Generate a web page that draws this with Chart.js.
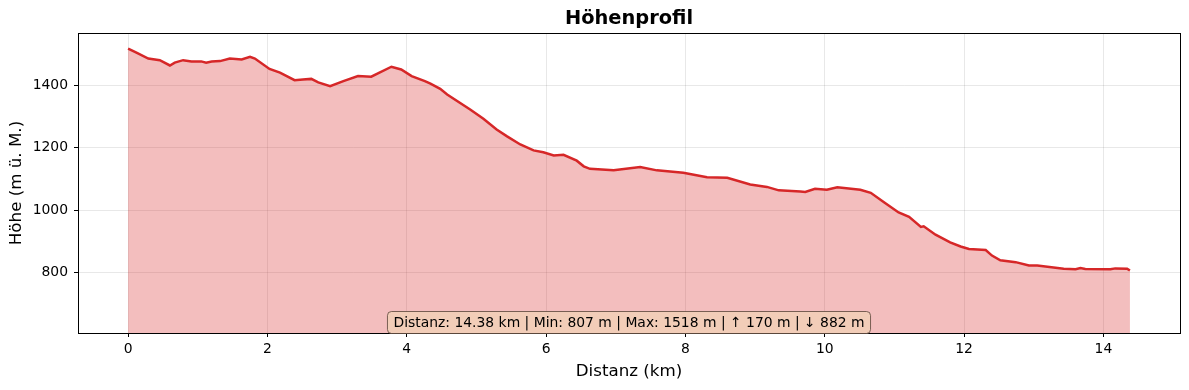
<!DOCTYPE html>
<html>
<head>
<meta charset="utf-8">
<script src="https://cdn.jsdelivr.net/npm/chart.js@4"></script>
<style>
  html, body { margin: 0; padding: 0; background: #fff; }
  #wrap { width: 1189px; height: 390px; }
</style>
</head>
<body>
<div id="wrap"><canvas id="profile" width="1189" height="390"></canvas></div>
<script>
const distances = [
  0.00, 0.12, 0.29, 0.455, 0.60, 0.67, 0.79, 0.91, 1.05, 1.12, 1.20, 1.32, 1.46, 1.63, 1.75, 1.82,
  2.03, 2.18, 2.39, 2.51, 2.63, 2.73, 2.90, 3.09, 3.30, 3.49, 3.78, 3.92, 4.07, 4.26, 4.34, 4.48,
  4.58, 4.91, 5.10, 5.29, 5.44, 5.63, 5.82, 5.96, 6.11, 6.25, 6.44, 6.54, 6.63, 6.97, 7.35, 7.59,
  7.97, 8.31, 8.60, 8.93, 9.17, 9.34, 9.65, 9.72, 9.86, 10.03, 10.18, 10.51, 10.66, 10.85, 11.06,
  11.21, 11.38, 11.42, 11.59, 11.80, 11.95, 12.07, 12.31, 12.40, 12.52, 12.74, 12.93, 13.05, 13.43,
  13.60, 13.67, 13.74, 14.10, 14.17, 14.34, 14.38
];
const elevations = [
  1518, 1505, 1486, 1481, 1464, 1473, 1481, 1477, 1477, 1473, 1477, 1478, 1486, 1483, 1492, 1486,
  1453, 1441, 1417, 1419, 1421, 1410, 1398, 1414, 1430, 1428, 1460, 1451, 1430, 1414, 1406, 1389,
  1371, 1323, 1293, 1259, 1237, 1211, 1192, 1186, 1176, 1178, 1159, 1141, 1133, 1128, 1139, 1128,
  1120, 1106, 1104, 1083, 1075, 1064, 1060, 1059, 1069, 1066, 1074, 1066, 1056, 1026, 993,
  979, 947, 949, 922, 897, 884, 876, 873, 855, 840, 834, 823, 823, 813,
  811, 815, 812, 811, 814, 813, 807
];
const xTicks = [0, 2, 4, 6, 8, 10, 12, 14];
const yTicks = [800, 1000, 1200, 1400];
const chartTitle = 'Höhenprofil';
const summary = 'Distanz: 14.38 km | Min: 807 m | Max: 1518 m | \u2191 170 m | \u2193 882 m';

const FONT = '"DejaVu Sans", sans-serif';
const points = distances.map((d, i) => ({ x: d, y: elevations[i] }));

// Titel über der Achsenmitte, Rahmen und Infobox unten
const framePlugin = {
  id: 'frame',
  afterDatasetsDraw(chart) {
    const { ctx, chartArea: a } = chart;
    const cx = (a.left + a.right) / 2;
    ctx.save();
    ctx.strokeStyle = '#000';
    ctx.lineWidth = 1;
    ctx.strokeRect(Math.round(a.left) + 0.5, Math.round(a.top) + 0.5,
      Math.round(a.right - a.left), Math.round(a.bottom - a.top));

    ctx.fillStyle = '#000';
    ctx.textAlign = 'center';
    ctx.textBaseline = 'middle';
    ctx.font = 'bold 19.4px ' + FONT;
    ctx.fillText(chartTitle, cx, 19);

    ctx.font = '13.9px ' + FONT;
    const w = ctx.measureText(summary).width;
    const bh = 22, bw = w + 12;
    const bx = cx - bw / 2, by = a.bottom - bh + 0.5;
    ctx.beginPath();
    ctx.roundRect(bx, by, bw, bh, 4);
    ctx.fillStyle = '#f2cdb8';
    ctx.fill();
    ctx.strokeStyle = 'rgba(80,60,50,0.75)';
    ctx.stroke();
    ctx.fillStyle = '#000';
    ctx.fillText(summary, cx, by + bh / 2 + 0.5);
    ctx.restore();
  }
};

new Chart(document.getElementById('profile'), {
  type: 'line',
  data: {
    datasets: [{
      data: points,
      borderColor: '#d62728',
      borderWidth: 2.5,
      backgroundColor: 'rgba(214,39,40,0.3)',
      fill: 'start',
      pointRadius: 0,
      tension: 0
    }]
  },
  options: {
    responsive: false,
    animation: false,
    layout: { padding: { left: 0, right: 9, top: 33, bottom: 0 } },
    plugins: {
      legend: { display: false },
      tooltip: { enabled: false },
      title: { display: false }
    },
    scales: {
      x: {
        type: 'linear',
        min: -0.719,
        max: 15.099,
        afterBuildTicks(scale) { scale.ticks = xTicks.map(v => ({ value: v })); },
        afterFit(scale) { scale.height = 57; },
        border: { display: false },
        grid: { color: 'rgba(0,0,0,0.09)', tickColor: '#000', tickLength: 4 },
        ticks: { color: '#000', font: { family: FONT, size: 13.9 }, padding: 4, maxRotation: 0 },
        title: {
          display: true,
          text: 'Distanz (km)',
          color: '#000',
          font: { family: FONT, size: 16.7, lineHeight: 1.2 },
          padding: { top: 2, bottom: 8 }
        }
      },
      y: {
        min: 607,
        max: 1568,
        afterBuildTicks(scale) { scale.ticks = yTicks.map(v => ({ value: v })); },
        afterFit(scale) { scale.width = 78; },
        border: { display: false },
        grid: { color: 'rgba(0,0,0,0.09)', tickColor: '#000', tickLength: 4 },
        ticks: {
          color: '#000',
          font: { family: FONT, size: 13.9 },
          padding: 6,
          callback: v => String(v)
        },
        title: {
          display: true,
          text: 'Höhe (m ü. M.)',
          color: '#000',
          font: { family: FONT, size: 16.7, lineHeight: 1.2 },
          padding: { top: 7, bottom: 0 }
        }
      }
    }
  },
  plugins: [framePlugin]
});
</script>
</body>
</html>
